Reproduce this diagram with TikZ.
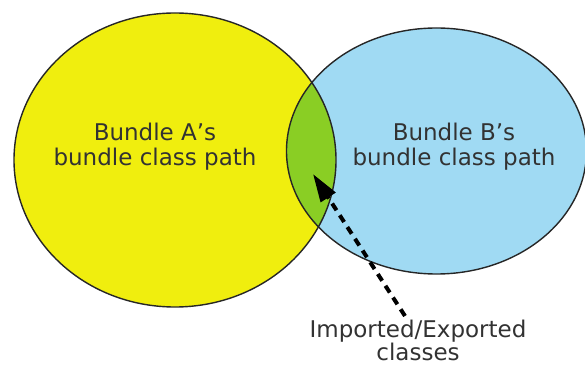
\documentclass[tikz,border=0pt]{standalone}
\usepackage{fontspec}
\setmainfont{DejaVu Sans}
\usetikzlibrary{arrows.meta}
\definecolor{bundleyellow}{RGB}{240,238,14}
\definecolor{bundleblue}{RGB}{160,218,243}
\definecolor{sharedgreen}{RGB}{138,206,36}
\definecolor{labelgray}{RGB}{50,50,50}
\begin{document}
\begin{tikzpicture}[x=1pt,y=-1pt,font=\fontsize{23}{25}\selectfont,
  outline/.style={draw=black!85,line width=1.4pt},
  pathlabel/.style={align=center,inner sep=0pt,text=labelgray},
  sharearrow/.style={line width=4pt,dash pattern=on 8pt off 6pt,-{Triangle[length=28pt,width=17pt]}}]
\useasboundingbox (0,0) rectangle (585,371);
\coordinate (bundlea) at (175,160);
\coordinate (bundleb) at (436.5,151);
\fill[bundleyellow] (bundlea) ellipse [x radius=161pt, y radius=147pt];
\fill[bundleblue] (bundleb) ellipse [x radius=150pt, y radius=123pt];
\begin{scope}
\clip (bundlea) ellipse [x radius=161pt, y radius=147pt];
\fill[sharedgreen] (bundleb) ellipse [x radius=150pt, y radius=123pt];
\end{scope}
\draw[outline] (bundlea) ellipse [x radius=161pt, y radius=147pt];
\draw[outline] (bundleb) ellipse [x radius=150pt, y radius=123pt];
\node[pathlabel] (alabel) at (155,146.5) {Bundle A’s\\bundle class path};
\node[pathlabel] (blabel) at (454,146.5) {Bundle B’s\\bundle class path};
\node[pathlabel,font=\fontsize{23}{22}\selectfont] (sharedlabel) at (418,340.5) {Imported/Exported\\classes};
\coordinate (tail) at (405,316);
\coordinate (tip) at (313,174);
\draw[sharearrow] (tail) -- (tip);
\end{tikzpicture}
\end{document}
